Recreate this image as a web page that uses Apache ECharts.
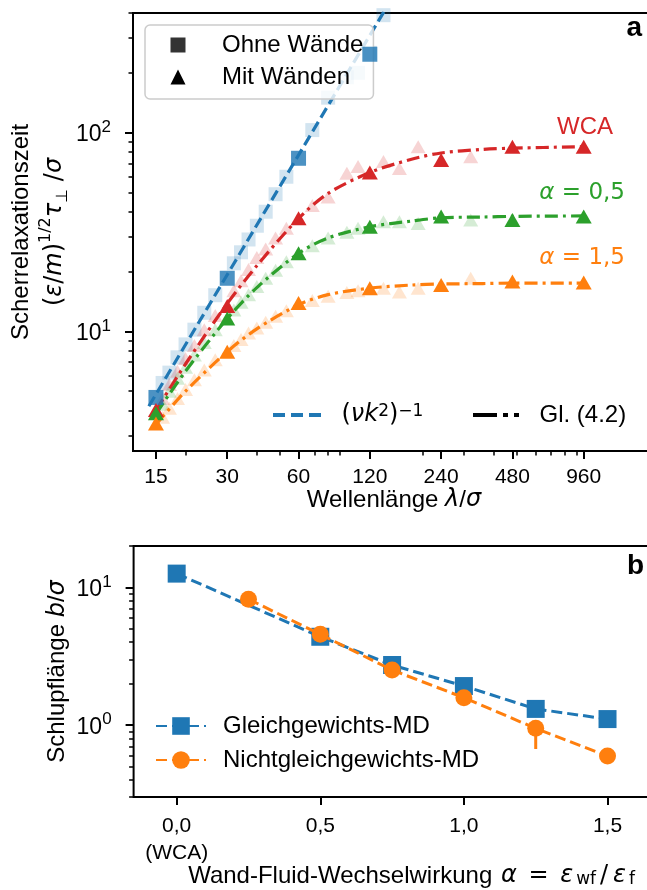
<!DOCTYPE html>
<html><head><meta charset="utf-8">
<script src="https://cdn.jsdelivr.net/npm/echarts@6/dist/echarts.min.js"></script>
<style>html,body{margin:0;padding:0;background:#fff}#c{width:647px;height:890px}</style>
</head><body><div id="c"></div>
<script>
// ---------- Panel a data ----------
const xTickLabelsA = [15, 30, 60, 120, 240, 480, 960];
const xMinorA = [20, 40, 50, 70, 80, 90, 200, 300, 400, 500, 600, 700, 800, 900];
const yTickA = [10, 100];
const yMinorA = [3, 4, 5, 6, 7, 8, 9, 20, 30, 40, 50, 60, 70, 80, 90, 200, 300, 400];

const lamOhne = [15, 30, 60, 120];
const tauOhne = [4.65, 18.5, 74.3, 248];
const lamMain = [15, 30, 60, 120, 240, 480, 960];
const tauWCA = [4.02, 13.4, 37.1, 63, 72.9, 85, 85];
const tauA05 = [3.87, 11.6, 24.7, 33.6, 37.8, 36.3, 37.8];
const tauA15 = [3.44, 7.89, 13.9, 16.5, 17.1, 17.8, 17.6];

const lamFaintOhne = [16, 17.1, 18.5, 20, 21.8, 24, 26.7, 32, 34.3, 36.9, 40, 43.6, 48, 53.3, 68.6, 80, 96, 107, 120, 137];
const tauFaintOhne = [5.5, 6.2, 7.4, 8.6, 10.2, 12.4, 15.2, 22, 25, 29, 34, 40, 49, 60, 103, 150, 190, 200, 252, 390];
const lamFaint = [16, 17.1, 18.5, 20, 21.8, 24, 26.7, 32, 34.3, 36.9, 40, 43.6, 48, 53.3, 68.6, 80, 96, 107, 137, 160, 192, 320];
const tauFaintWCA = [4.6, 5.4, 6.3, 7.3, 8.5, 10.2, 12.0, 16.0, 18.0, 20.5, 23.5, 26.0, 29.5, 33.0, 43, 47.5, 62.4, 67.5, 71.5, 66, 85, 75.7];
const tauFaintA05 = [4.3, 5.0, 5.8, 6.6, 7.6, 8.8, 10.2, 12.8, 14.0, 15.3, 16.8, 18.5, 20.3, 22.4, 27.0, 29.5, 31.5, 33.0, 35.6, 35.6, 34.9, 36.3];
const tauFaintA15 = [3.7, 4.1, 4.6, 5.1, 5.7, 6.4, 7.2, 8.5, 9.1, 9.8, 10.4, 11.1, 11.9, 12.7, 14.3, 15.0, 15.7, 16.0, 16.5, 15.8, 16.5, 18.5];

const lamTheory = [14, 150];
const tauTheory = [4.2, 482];

const lamFit = [15, 20, 30, 40, 60, 80, 120, 180, 240, 360, 480, 960];
const fitWCA = [4.0, 6.85, 13.8, 21.4, 37, 49.5, 63, 73.5, 79, 82.4, 83.5, 85];
const fitA05 = [3.85, 6.3, 11.6, 16.6, 24.7, 29.5, 33.6, 35.9, 37.3, 37.6, 37.9, 38.1];
const fitA15 = [3.4, 5.0, 7.9, 10.3, 13.6, 15.3, 16.5, 17.1, 17.3, 17.4, 17.5, 17.5];

// ---------- Panel b data ----------
const xTickB = [0, 0.5, 1.0, 1.5];
const yTickB = [1, 10];
const yMinorB = [0.3, 0.4, 0.5, 0.6, 0.7, 0.8, 0.9, 2, 3, 4, 5, 6, 7, 8, 9, 20];
const alphaEq = [0, 0.5, 0.75, 1.0, 1.25, 1.5];
const slipEq = [12.6, 4.38, 2.73, 1.92, 1.31, 1.105];
const alphaNeq = [0.25, 0.5, 0.75, 1.0, 1.25, 1.5];
const slipNeq = [8.22, 4.56, 2.51, 1.58, 0.946, 0.595];
const errAlpha = [1.0, 1.25];
const errLo = [1.45, 0.67];
const errHi = [1.70, 1.05];

// ---------- helpers ----------
const C = {blue:'#1f77b4', orange:'#ff7f0e', green:'#2ca02c', red:'#d62728'};
const SANS = 'Liberation Sans';
const MATH = 'DejaVu Sans';
const zip = (a, b) => a.map((v, i) => [v, b[i]]);
const pow10Label = v => '{base|10}{pw|' + Math.round(Math.log10(v)) + '}';
const labRich = {
  base: {fontSize: 23, fontFamily: SANS, color: '#000', lineHeight: 28, verticalAlign: 'bottom'},
  pw: {fontSize: 17, fontFamily: SANS, color: '#000', lineHeight: 17, verticalAlign: 'top'}
};
const dashDot = [13, 5, 3, 5];

const chart = echarts.init(document.getElementById('c'), null, {renderer: 'canvas'});

function minorAxis(gridIndex, type, min, max, vals, isY) {
  return {
    type: type, gridIndex: gridIndex, min: min, max: max, logBase: 10,
    axisLine: {show: false, onZero: false}, splitLine: {show: false},
    axisLabel: {show: false, customValues: vals},
    axisTick: {show: true, customValues: vals, length: 4.5, lineStyle: {width: 1.5, color: '#000'}},
    position: isY ? 'left' : 'bottom'
  };
}

const faint = (name, lam, tau, color, sym, size) => ({
  type: 'scatter', name: name, xAxisIndex: 0, yAxisIndex: 0, data: zip(lam, tau),
  symbol: sym, symbolSize: size, itemStyle: {color: color, opacity: 0.2}, z: 1, silent: true
});
const fit = (vals, color) => ({
  type: 'line', name: 'Gl. (4.2)', xAxisIndex: 0, yAxisIndex: 0, data: zip(lamFit, vals),
  smooth: 0.3, showSymbol: false, symbol: 'none',
  lineStyle: {color: color, width: 3.2, type: dashDot}, itemStyle: {color: color}, z: 3
});
const mainTri = (vals, color) => ({
  type: 'scatter', name: 'Mit Wänden', xAxisIndex: 0, yAxisIndex: 0, data: zip(lamMain, vals),
  symbol: 'triangle', symbolSize: [16, 14], itemStyle: {color: color, opacity: 1}, z: 5
});

const option = {
  animation: false,
  backgroundColor: '#fff',
  grid: [
    {left: 133, top: 13, width: 522, height: 438, show: true, borderColor: '#000', borderWidth: 2, backgroundColor: 'transparent',
     containLabel: false, outerBoundsMode: 'none'},
    {left: 133.6, top: 546, width: 517, height: 251, show: true, borderColor: '#000', borderWidth: 2, backgroundColor: 'transparent',
     containLabel: false, outerBoundsMode: 'none'}
  ],
  xAxis: [
    {type: 'log', gridIndex: 0, min: 12, max: 1920, logBase: 10,
     axisLine: {show: false, onZero: false}, splitLine: {show: false},
     axisTick: {show: true, customValues: xTickLabelsA, length: 8, lineStyle: {width: 2, color: '#000'}},
     axisLabel: {customValues: xTickLabelsA, fontSize: 21, fontFamily: SANS, color: '#000', margin: 16,
                 formatter: v => String(Math.round(v))},
     name: 'Wellenlänge {i|λ}/{i|σ}', nameLocation: 'middle', nameGap: 37, nameMoveOverlap: false,
     nameTextStyle: {fontSize: 24, fontFamily: SANS, color: '#000',
       rich: {i: {fontSize: 24, fontFamily: MATH, fontStyle: 'italic', color: '#000'}}}},
    minorAxis(0, 'log', 12, 1920, xMinorA, false),
    {type: 'value', gridIndex: 1, min: -0.15, max: 1.65,
     axisLine: {show: false, onZero: false}, splitLine: {show: false},
     axisTick: {show: true, customValues: xTickB, length: 8, lineStyle: {width: 2, color: '#000'}},
     axisLabel: {customValues: xTickB, fontSize: 21, fontFamily: SANS, color: '#000', margin: 16, lineHeight: 27,
                 formatter: v => v === 0 ? '0,0\n(WCA)' : v.toFixed(1).replace('.', ',')},
     name: 'Wand-Fluid-Wechselwirkung {i|α} {n|=} {i|ε}{sub|wf}{n|/}{i|ε}{sub|f}', nameLocation: 'middle', nameGap: 67, nameMoveOverlap: false,
     nameTextStyle: {fontSize: 24, fontFamily: SANS, color: '#000', padding: [0, 0, 0, 40],
       rich: {i: {fontSize: 24, fontFamily: MATH, fontStyle: 'italic', color: '#000', padding: [0, 2, 0, 2]},
              n: {fontSize: 24, fontFamily: MATH, color: '#000', padding: [0, 3, 0, 3]},
              sub: {fontSize: 17, fontFamily: MATH, color: '#000', verticalAlign: 'bottom', lineHeight: 16, padding: [0, 1, 0, 1]}}}}
  ],
  yAxis: [
    {type: 'log', gridIndex: 0, min: 2.5, max: 400, logBase: 10,
     axisLine: {show: false, onZero: false}, splitLine: {show: false},
     axisTick: {show: true, customValues: yTickA, length: 8, lineStyle: {width: 2, color: '#000'}},
     axisLabel: {customValues: yTickA, margin: 22, fontSize: 23, fontFamily: SANS, color: '#000', formatter: pow10Label, rich: labRich},
     name: '{t|Scherrelaxationszeit}\n{n|(}{i|ε}{n|/}{i|m}{n|)}{sup|1/2}{i|τ}{sub|⊥}{n| /}{i|σ}',
     nameLocation: 'middle', nameRotate: 90, nameGap: 62, nameMoveOverlap: false,
     nameTextStyle: {fontSize: 24, fontFamily: SANS, color: '#000', lineHeight: 33,
       rich: {t: {fontSize: 24, fontFamily: SANS, color: '#000', lineHeight: 33},
              n: {fontSize: 24, fontFamily: MATH, color: '#000', lineHeight: 33},
              i: {fontSize: 24, fontFamily: MATH, fontStyle: 'italic', color: '#000', lineHeight: 33},
              sup: {fontSize: 16, fontFamily: MATH, color: '#000', verticalAlign: 'top', lineHeight: 18},
              sub: {fontSize: 16, fontFamily: MATH, color: '#000', verticalAlign: 'bottom', lineHeight: 14}}}},
    minorAxis(0, 'log', 2.5, 400, yMinorA, true),
    {type: 'log', gridIndex: 1, min: 0.3, max: 20, logBase: 10,
     axisLine: {show: false, onZero: false}, splitLine: {show: false},
     axisTick: {show: true, customValues: yTickB, length: 8, lineStyle: {width: 2, color: '#000'}},
     axisLabel: {customValues: yTickB, margin: 22, fontSize: 23, fontFamily: SANS, color: '#000', formatter: pow10Label, rich: labRich},
     name: 'Schlupflänge {i|b}/{i|σ}', nameLocation: 'middle', nameRotate: 90, nameGap: 64, nameMoveOverlap: false,
     nameTextStyle: {fontSize: 24, fontFamily: SANS, color: '#000',
       rich: {i: {fontSize: 24, fontFamily: MATH, fontStyle: 'italic', color: '#000'}}}},
    minorAxis(1, 'log', 0.3, 20, yMinorB, true)
  ],
  legend: [
    {left: 145, top: 25, orient: 'vertical', selectedMode: false,
     padding: [8, 10, 10, 25.5], itemGap: 8, itemWidth: 15, itemHeight: 15,
     backgroundColor: 'rgba(255,255,255,0.8)', borderColor: '#cccccc', borderWidth: 1.5, borderRadius: 5,
     textStyle: {fontSize: 24, fontFamily: SANS, color: '#000', lineHeight: 24, padding: [0, 0, 0, 31.5]},
     data: [{name: 'Ohne Wände', icon: 'rect', itemStyle: {color: '#000'}},
            {name: 'Mit Wänden', icon: 'triangle', itemStyle: {color: '#000'}}]},
    {left: 273, top: 403, selectedMode: false, itemWidth: 49, itemHeight: 4, padding: 0,
     textStyle: {fontSize: 24, fontFamily: MATH, color: '#000', lineHeight: 24, padding: [0, 0, 0, 15],
       rich: {i: {fontSize: 24, fontFamily: MATH, fontStyle: 'italic', color: '#000'},
              n: {fontSize: 24, fontFamily: MATH, color: '#000'},
              sup: {fontSize: 17, fontFamily: MATH, color: '#000', verticalAlign: 'top', lineHeight: 17}}},
     formatter: () => '{n|(}{i|νk}{sup|2}{n|)}{sup|−1}',
     data: [{name: '(νk²)⁻¹', icon: 'path://M0,0h12v4h-12z M18,0h12v4h-12z M36,0h12v4h-12z', itemStyle: {color: C.blue}}]},
    {left: 473, top: 403, selectedMode: false, itemWidth: 47, itemHeight: 4, padding: 0,
     textStyle: {fontSize: 24, fontFamily: SANS, color: '#000', lineHeight: 24, padding: [0, 0, 0, 15]},
     data: [{name: 'Gl. (4.2)', icon: 'path://M0,0h24v4h-24z M30,0h5v4h-5z M41,0h5v4h-5z', itemStyle: {color: '#000'}}]},
    {left: 155, top: 714, orient: 'vertical', selectedMode: false, itemWidth: 50, itemHeight: 22, itemGap: 10, padding: 0,
     textStyle: {fontSize: 24, fontFamily: SANS, color: '#000', lineHeight: 24, padding: [0, 0, 0, 12]},
     data: ['Gleichgewichts-MD', 'Nichtgleichgewichts-MD']}
  ],
  graphic: [
    {type: 'text', x: 642, y: 28, z: 100, style: {text: 'a', align: 'right', verticalAlign: 'middle', fontSize: 28, fontWeight: 'bold', fontFamily: SANS, fill: '#000'}},
    {type: 'text', x: 644, y: 566, z: 100, style: {text: 'b', align: 'right', verticalAlign: 'middle', fontSize: 28, fontWeight: 'bold', fontFamily: SANS, fill: '#000'}},
    {type: 'text', x: 613, y: 127, z: 100, style: {text: 'WCA', align: 'right', verticalAlign: 'middle', fontSize: 24, fontFamily: SANS, fill: C.red}},
    {type: 'text', x: 625, y: 193, z: 100, style: {text: '{i|α} = 0,5', align: 'right', verticalAlign: 'middle', fontSize: 23, fontFamily: MATH, fill: C.green,
      rich: {i: {fontSize: 23, fontFamily: MATH, fontStyle: 'italic', fill: C.green}}}},
    {type: 'text', x: 625, y: 258, z: 100, style: {text: '{i|α} = 1,5', align: 'right', verticalAlign: 'middle', fontSize: 23, fontFamily: MATH, fill: C.orange,
      rich: {i: {fontSize: 23, fontFamily: MATH, fontStyle: 'italic', fill: C.orange}}}}
  ],
  series: [
    faint('Ohne Wände (alle Moden)', lamFaintOhne, tauFaintOhne, C.blue, 'rect', 14),
    faint('WCA (alle Moden)', lamFaint, tauFaintWCA, C.red, 'triangle', [15, 13]),
    faint('α=0,5 (alle Moden)', lamFaint, tauFaintA05, C.green, 'triangle', [15, 13]),
    faint('α=1,5 (alle Moden)', lamFaint, tauFaintA15, C.orange, 'triangle', [15, 13]),
    {type: 'line', name: '(νk²)⁻¹', xAxisIndex: 0, yAxisIndex: 0, data: zip(lamTheory, tauTheory),
     showSymbol: false, symbol: 'none', lineStyle: {color: C.blue, width: 3.2, type: [11, 5]}, itemStyle: {color: C.blue}, z: 2, clip: true},
    fit(fitWCA, C.red), fit(fitA05, C.green), fit(fitA15, C.orange),
    {type: 'scatter', name: 'Ohne Wände', xAxisIndex: 0, yAxisIndex: 0, data: zip(lamOhne, tauOhne),
     symbol: 'rect', symbolSize: 15, itemStyle: {color: C.blue}, z: 4},
    mainTri(tauWCA, C.red), mainTri(tauA05, C.green), mainTri(tauA15, C.orange),
    {type: 'line', name: 'Gleichgewichts-MD', xAxisIndex: 2, yAxisIndex: 2, data: zip(alphaEq, slipEq),
     symbol: 'rect', symbolSize: 18, showSymbol: true, lineStyle: {color: C.blue, width: 3, type: [11, 5]}, itemStyle: {color: C.blue}, z: 2},
    {type: 'custom', name: 'Fehlerbalken', xAxisIndex: 2, yAxisIndex: 2,
     data: errAlpha.map((a, i) => [a, errLo[i], errHi[i]]),
     encode: {x: 0, y: [1, 2]}, z: 3,
     renderItem: (params, api) => {
       const p1 = api.coord([api.value(0), api.value(1)]);
       const p2 = api.coord([api.value(0), api.value(2)]);
       return {type: 'line', shape: {x1: p1[0], y1: p1[1], x2: p2[0], y2: p2[1]}, style: {stroke: C.orange, lineWidth: 3}};
     }},
    {type: 'line', name: 'Nichtgleichgewichts-MD', xAxisIndex: 2, yAxisIndex: 2, data: zip(alphaNeq, slipNeq),
     symbol: 'circle', symbolSize: 17, showSymbol: true, lineStyle: {color: C.orange, width: 3, type: [11, 5]}, itemStyle: {color: C.orange}, z: 4}
  ]
};
chart.setOption(option);
</script>
</body></html>
